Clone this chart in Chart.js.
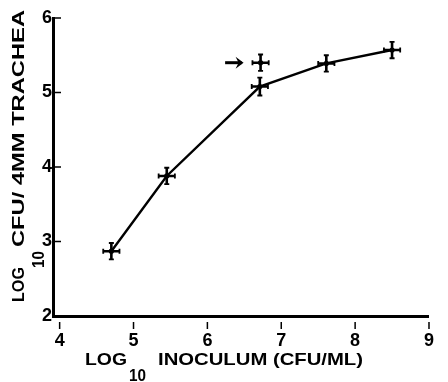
<!DOCTYPE html>
<html>
<head>
<meta charset="utf-8">
<script src="https://cdn.jsdelivr.net/npm/chart.js@4"></script>
<style>
  html, body { margin: 0; padding: 0; background: #fff; }
  canvas { display: block; }
</style>
</head>
<body>
<canvas id="doseChart" width="448" height="382"></canvas>
<script>
// dose-response curve
const inoculum = [4.70, 5.45, 6.71, 7.61, 8.50];
const cfuTrachea = [2.87, 3.88, 5.08, 5.39, 5.57];
const inoculumErr = [0.11, 0.11, 0.11, 0.11, 0.11];
const cfuErr = [0.11, 0.11, 0.12, 0.11, 0.11];

// separate point marked by the arrow
const extraInoculum = [6.72];
const extraCfu = [5.40];
const extraInoculumErr = [0.11];
const extraCfuErr = [0.11];

const arrowFrom = [6.24, 5.40];
const arrowTo = [6.49, 5.40];

const xTicks = [4, 5, 6, 7, 8, 9];
const yTicks = [2, 3, 4, 5, 6];

const FONT = 'bold 17px "Liberation Sans", Arial, sans-serif';

// draw text squeezed/stretched to a given width
function fitText(c, text, x, y, w) {
    const m = c.measureText(text).width;
    c.save();
    c.translate(x, y);
    c.scale(w / m, 1);
    c.fillText(text, 0, 0);
    c.restore();
}

const extrasPlugin = {
    id: 'extras',
    afterDatasetsDraw(chart) {
        const c = chart.ctx;
        const xs = chart.scales.x;
        const ys = chart.scales.y;
        c.save();
        c.strokeStyle = '#000';
        c.lineCap = 'butt';

        const cross = (xv, yv, ex, ey) => {
            const px = xs.getPixelForValue(xv);
            const py = ys.getPixelForValue(yv);
            const x1 = xs.getPixelForValue(xv - ex), x2 = xs.getPixelForValue(xv + ex);
            const y1 = ys.getPixelForValue(yv - ey), y2 = ys.getPixelForValue(yv + ey);
            c.lineWidth = 2.6;
            c.beginPath();
            c.moveTo(x1, py); c.lineTo(x2, py);
            c.moveTo(px, y1); c.lineTo(px, y2);
            c.stroke();
            c.lineWidth = 1.8;
            c.beginPath();
            c.moveTo(x1, py - 2.5); c.lineTo(x1, py + 2.5);
            c.moveTo(x2, py - 2.5); c.lineTo(x2, py + 2.5);
            c.moveTo(px - 2.5, y1); c.lineTo(px + 2.5, y1);
            c.moveTo(px - 2.5, y2); c.lineTo(px + 2.5, y2);
            c.stroke();
            c.beginPath();
            c.arc(px, py, 2.6, 0, Math.PI * 2);
            c.fillStyle = '#000';
            c.fill();
        };
        inoculum.forEach((v, i) => cross(v, cfuTrachea[i], inoculumErr[i], cfuErr[i]));
        extraInoculum.forEach((v, i) => cross(v, extraCfu[i], extraInoculumErr[i], extraCfuErr[i]));

        // arrow
        const ax1 = xs.getPixelForValue(arrowFrom[0]), ay = ys.getPixelForValue(arrowFrom[1]);
        const ax2 = xs.getPixelForValue(arrowTo[0]);
        c.lineWidth = 3;
        c.beginPath();
        c.moveTo(ax1, ay); c.lineTo(ax2 - 2, ay);
        c.stroke();
        c.beginPath();
        c.moveTo(ax2 - 8, ay - 6); c.lineTo(ax2, ay); c.lineTo(ax2 - 8, ay + 6);
        c.lineTo(ax2 - 5, ay); c.closePath();
        c.fillStyle = '#000';
        c.fill();
        c.restore();
    },
    afterDraw(chart) {
        const c = chart.ctx;
        const xs = chart.scales.x;
        const ys = chart.scales.y;
        const area = chart.chartArea;
        c.save();
        c.strokeStyle = '#000';
        c.fillStyle = '#000';

        // y tick marks (inside), x tick marks (below, detached)
        c.lineWidth = 1.5;
        c.beginPath();
        yTicks.slice(1).forEach(v => {
            const py = ys.getPixelForValue(v);
            c.moveTo(area.left, py); c.lineTo(area.left + 8, py);
        });
        xTicks.forEach(v => {
            const px = xs.getPixelForValue(v);
            c.moveTo(px, area.bottom + 6); c.lineTo(px, area.bottom + 13);
        });
        c.stroke();

        // axis titles
        c.font = FONT;
        c.textBaseline = 'alphabetic';
        fitText(c, 'LOG', 85, 365, 42);
        fitText(c, '10', 129, 381, 17);
        fitText(c, 'INOCULUM (CFU/ML)', 158, 365, 205);

        c.save();
        c.translate(24, 302);
        c.rotate(-Math.PI / 2);
        fitText(c, 'LOG', 0, 0, 35);
        c.restore();
        c.save();
        c.translate(44, 268);
        c.rotate(-Math.PI / 2);
        fitText(c, '10', 0, 0, 17);
        c.restore();
        c.save();
        c.translate(24, 247);
        c.rotate(-Math.PI / 2);
        fitText(c, 'CFU/ 4MM TRACHEA', 0, 0, 237);
        c.restore();
        c.restore();
    }
};

new Chart(document.getElementById('doseChart'), {
    type: 'scatter',
    data: {
        datasets: [
            {
                data: inoculum.map((x, i) => ({ x: x, y: cfuTrachea[i] })),
                showLine: true,
                borderColor: '#000',
                borderWidth: 2.4,
                pointRadius: 0,
                tension: 0
            },
            {
                data: extraInoculum.map((x, i) => ({ x: x, y: extraCfu[i] })),
                showLine: false,
                pointRadius: 0
            }
        ]
    },
    options: {
        responsive: false,
        animation: false,
        layout: { padding: { top: 18, right: 3, left: 0, bottom: 0 } },
        plugins: {
            legend: { display: false },
            tooltip: { enabled: false }
        },
        scales: {
            x: {
                type: 'linear',
                min: 3.91,
                max: 9,
                afterBuildTicks: (scale) => { scale.ticks = xTicks.map(v => ({ value: v })); },
                afterFit: (scale) => { scale.height = 66; },
                grid: { display: false, drawTicks: false },
                border: { display: true, color: '#000', width: 3 },
                ticks: {
                    color: '#000',
                    padding: 14,
                    maxRotation: 0,
                    font: { family: '"Liberation Sans", Arial, sans-serif', size: 18, weight: 'bold' }
                }
            },
            y: {
                min: 2,
                max: 6,
                afterBuildTicks: (scale) => { scale.ticks = yTicks.map(v => ({ value: v })); },
                afterFit: (scale) => { scale.width = 53; },
                grid: { display: false, drawTicks: false },
                border: { display: true, color: '#000', width: 3 },
                ticks: {
                    color: '#000',
                    padding: 1,
                    font: { family: '"Liberation Sans", Arial, sans-serif', size: 18, weight: 'bold' }
                }
            }
        }
    },
    plugins: [extrasPlugin]
});
</script>
</body>
</html>
